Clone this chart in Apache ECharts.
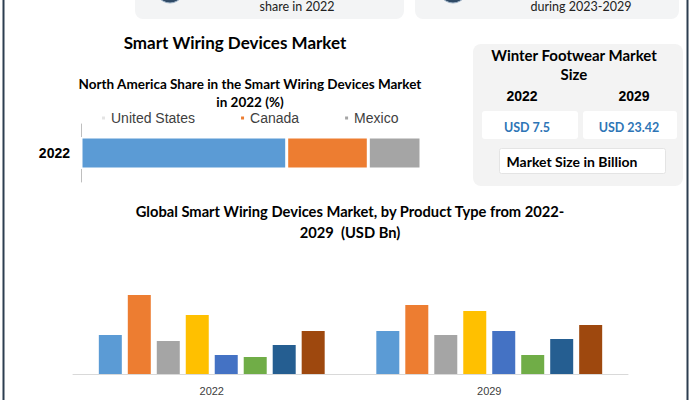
<!DOCTYPE html>
<html>
<head>
<meta charset="utf-8">
<script src="https://cdn.jsdelivr.net/npm/echarts@6/dist/echarts.min.js"></script>
<style>html,body{margin:0;padding:0;background:#fff}#c{width:691px;height:400px}</style>
</head>
<body>
<div id="c"></div>
<script>
const shareCategories = ['2022'];
const countries = ['United States', 'Canada', 'Mexico'];
const shareValues = [60.5, 24, 15.5];
const years = ['2022', '2029'];
const productTypes = ['Product Type 1', 'Product Type 2', 'Product Type 3', 'Product Type 4',
  'Product Type 5', 'Product Type 6', 'Product Type 7', 'Product Type 8'];
const values2022 = [3.9, 7.9, 3.3, 5.9, 1.9, 1.7, 2.9, 4.3];
const values2029 = [4.3, 6.9, 3.9, 6.3, 4.3, 1.9, 3.5, 4.9];
const marketYears = ['2022', '2029'];
const marketSizes = ['USD 7.5', 'USD 23.42'];

const countryColors = ['#5B9BD5', '#ED7D31', '#A5A5A5'];
const productColors = ['#5B9BD5', '#ED7D31', '#A5A5A5', '#FFC000', '#4472C4', '#70AD47', '#255E91', '#9E480E'];
const TF = 'Lato, "Open Sans", sans-serif';
const AF = '"Liberation Sans", Arial, sans-serif';

const chart = echarts.init(document.getElementById('c'), null, {renderer: 'svg'});

const series = [];
countries.forEach((name, i) => {
  series.push({
    name, type: 'bar', stack: 'share', xAxisIndex: 0, yAxisIndex: 0,
    barWidth: 32, data: [shareValues[i]],
    itemStyle: {color: countryColors[i], borderColor: '#fff', borderWidth: 1.5}
  });
});
productTypes.forEach((name, i) => {
  series.push({
    name, type: 'bar', xAxisIndex: 1, yAxisIndex: 1,
    barWidth: 23, barGap: '26%',
    data: [values2022[i], values2029[i]],
    itemStyle: {color: productColors[i]}
  });
});

function txt(x, y, text, size, opts) {
  opts = opts || {};
  return {type: 'text', z: 10, style: Object.assign({
    x, y, text, fontSize: size, fontFamily: opts.font || TF, fontWeight: opts.weight || 'bold',
    fill: opts.color || '#000', align: 'center', verticalAlign: 'middle'
  }, opts.style || {})};
}

const graphics = [
  // top cut boxes
  {type: 'rect', shape: {x: 135, y: -12, width: 269, height: 31, r: 8}, style: {fill: '#f3f4f5'}},
  {type: 'rect', shape: {x: 415, y: -12, width: 264, height: 31, r: 8}, style: {fill: '#f3f4f5'}},
  {type: 'circle', shape: {cx: 170, cy: -11, r: 14}, style: {fill: '#2f4a66', stroke: '#9fb3c8', lineWidth: 1}},
  {type: 'circle', shape: {cx: 453, cy: -11, r: 14}, style: {fill: '#2f4a66', stroke: '#9fb3c8', lineWidth: 1}},
  txt(297, 6.5, 'share in 2022', 12.5, {weight: 'normal', color: '#222'}),
  txt(581, 6.5, 'during 2023-2029', 12.5, {weight: 'normal', color: '#222'}),
  // titles
  txt(235, 42, 'Smart Wiring Devices Market', 17),
  txt(250, 84, 'North America Share in the Smart Wiring Devices Market', 13.5),
  txt(250, 102, 'in 2022 (%)', 13.5),
  txt(350, 211, 'Global Smart Wiring Devices Market, by Product Type from 2022-', 14.7),
  txt(350, 232, '2029  (USD Bn)', 14.7),
  // right panel
  {type: 'rect', shape: {x: 473, y: 44, width: 210, height: 142, r: 8}, style: {fill: '#f3f3f3'}},
  {type: 'rect', shape: {x: 482, y: 111, width: 96, height: 28, r: 3}, style: {fill: '#fff'}},
  {type: 'rect', shape: {x: 583, y: 111, width: 94, height: 28, r: 3}, style: {fill: '#fff'}},
  {type: 'rect', shape: {x: 499.5, y: 148.5, width: 166, height: 25, r: 2}, style: {fill: '#fff', stroke: '#e4e4e4', lineWidth: 1}},
  txt(574, 55, 'Winter Footwear Market', 15),
  txt(574, 74, 'Size', 15),
  txt(522, 96, marketYears[0], 14, {font: AF}),
  txt(634, 96, marketYears[1], 14, {font: AF}),
  txt(527, 127, marketSizes[0], 12.5, {color: '#2E75B6'}),
  txt(629, 127, marketSizes[1], 12.5, {color: '#2E75B6'}),
  txt(572, 161, 'Market Size in Billion', 14),
  // frame borders
  {type: 'line', shape: {x1: 3.5, y1: 0, x2: 3.5, y2: 400}, style: {stroke: '#2c3e50', lineWidth: 2}},
  {type: 'line', shape: {x1: 687.5, y1: 0, x2: 687.5, y2: 400}, style: {stroke: '#2c3e50', lineWidth: 2}}
];

chart.setOption({
  animation: false,
  backgroundColor: '#fff',
  legend: {
    data: countries.map((c, i) => ({name: c, itemStyle: {color: i === 0 ? '#e4e4e4' : countryColors[i]}})),
    left: 95, top: 106, itemWidth: 5, itemHeight: 5, itemGap: 44, icon: 'rect',
    textStyle: {fontFamily: AF, fontSize: 14, color: '#404040'}
  },
  grid: [
    {left: 81, top: 124, width: 340, height: 58},
    {left: 73, top: 274, width: 555, height: 100}
  ],
  xAxis: [
    {type: 'value', gridIndex: 0, min: 0, max: 100, show: false},
    {type: 'category', gridIndex: 1, data: years,
      axisLine: {lineStyle: {color: '#d9d9d9', width: 1}}, axisTick: {show: false},
      axisLabel: {fontFamily: AF, fontSize: 11, color: '#404040', margin: 11}}
  ],
  yAxis: [
    {type: 'category', gridIndex: 0, data: shareCategories,
      axisLine: {lineStyle: {color: '#bfbfbf'}}, axisTick: {length: 3, lineStyle: {color: '#bfbfbf'}},
      axisLabel: {fontFamily: AF, fontSize: 14, fontWeight: 'bold', color: '#000', margin: 11}},
    {type: 'value', gridIndex: 1, min: 0, max: 10, show: false, splitLine: {show: false}}
  ],
  series,
  graphic: graphics
});
</script>
</body>
</html>
